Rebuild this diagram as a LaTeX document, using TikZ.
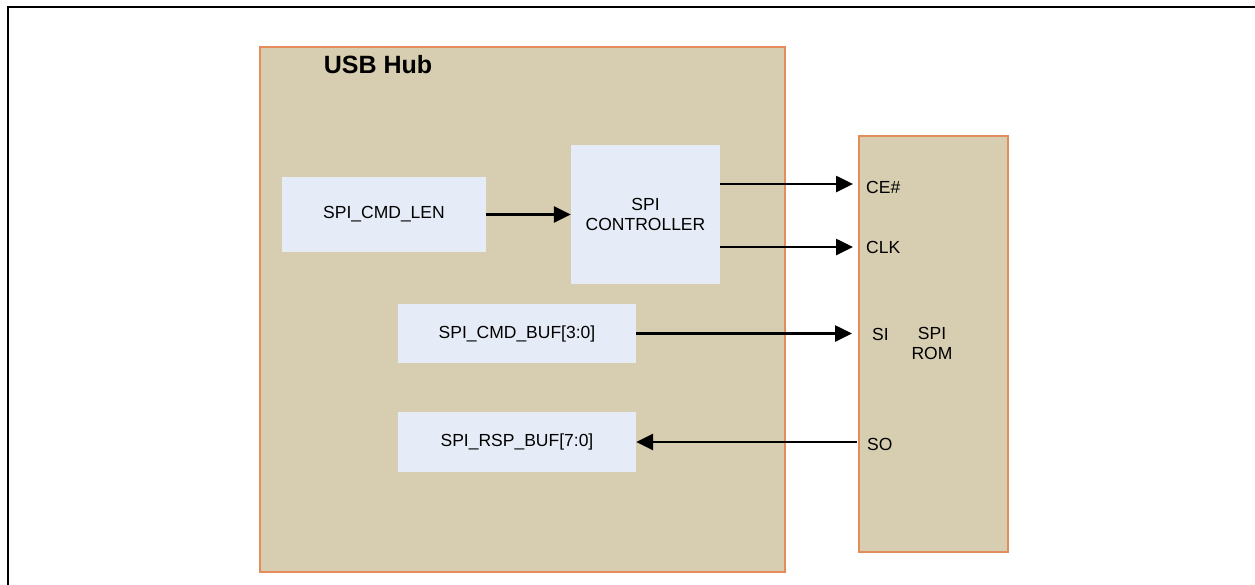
\documentclass[tikz,border=0pt]{standalone}
\usepackage{fontspec}
\setmainfont{Liberation Sans}
\usetikzlibrary{arrows.meta}
\definecolor{hubtan}{RGB}{215,205,176}
\definecolor{blkfill}{RGB}{230,236,247}
\definecolor{edgeor}{RGB}{228,140,90}
\begin{document}
\begin{tikzpicture}[x=1pt,y=-1pt,
  panel/.style={draw=edgeor, line width=1.5pt, fill=hubtan, inner sep=0pt, anchor=north west},
  blockbox/.style={fill=blkfill, draw=none, inner sep=0pt, align=center, font=\fontsize{17.5}{20}\selectfont},
  pinlabel/.style={font=\fontsize{17.5}{20}\selectfont, inner sep=0pt, anchor=west},
  arr/.style={line width=2.6pt, -{Triangle[length=17pt,width=16pt]}}]
\useasboundingbox (0,0) rectangle (1255,584);
\draw[line width=2.4pt] (8,7) rectangle (1290,620);
% panels
\node[panel, minimum width=525pt, minimum height=525pt] (hub) at (259,46) {};
\node[panel, minimum width=149pt, minimum height=416pt] (rom) at (858,135) {};
\node[font=\bfseries\fontsize{25}{28}\selectfont, inner sep=0pt] (hubtitle) at (378,65) {USB Hub};
\node[align=center, font=\fontsize{17.5}{20}\selectfont, inner sep=0pt] (romtitle) at (932,343) {SPI\\ROM};
% blocks
\node[blockbox, minimum width=204pt, minimum height=75pt] (len) at (384,214.5) {SPI\_CMD\_LEN};
\node[blockbox, minimum width=149pt, minimum height=139pt] (ctrl) at (645.5,214.5) {SPI\\CONTROLLER};
\node[blockbox, minimum width=238pt, minimum height=59pt] (cmdbuf) at (517,333.5) {SPI\_CMD\_BUF[3:0]};
\node[blockbox, minimum width=238pt, minimum height=60pt] (rspbuf) at (517,442) {SPI\_RSP\_BUF[7:0]};
% pin labels
\node[pinlabel] (ce) at (866,187) {CE\#};
\node[pinlabel] (clk) at (866,247) {CLK};
\node[pinlabel] (si) at (872,334) {SI};
\node[pinlabel] (so) at (867,444) {SO};
% connector ends
\coordinate (ceEnd) at (853,184);
\coordinate (clkEnd) at (853,247);
\coordinate (siEnd) at (852,333.5);
\coordinate (soStart) at (857,442);
% connectors
\draw[arr] (len.east) -- (ctrl.west);
\draw[arr] (ctrl.east |- ceEnd) -- (ceEnd);
\draw[arr] (ctrl.east |- clkEnd) -- (clkEnd);
\draw[arr] (cmdbuf.east) -- (siEnd);
\draw[arr] (soStart) -- (rspbuf.east);
\end{tikzpicture}
\end{document}
